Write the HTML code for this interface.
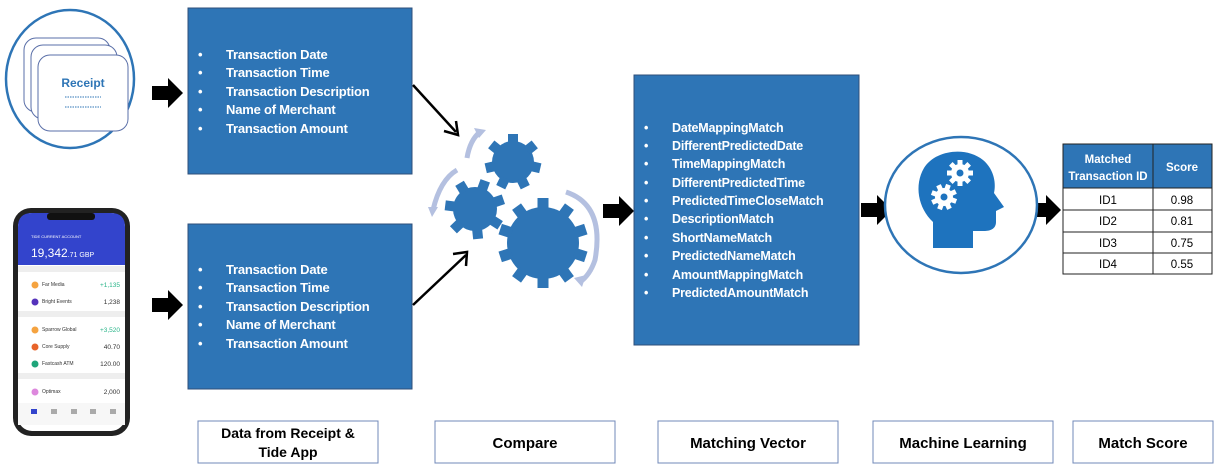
<!DOCTYPE html>
<html><head><meta charset="utf-8"><style>
html,body{margin:0;padding:0;background:#fff;width:1219px;height:469px;overflow:hidden}
svg{display:block}
.bt{font-family:"Liberation Sans",sans-serif;font-weight:bold;fill:#fff;font-size:13px;letter-spacing:-0.2px}
.lb{font-family:"Liberation Sans",sans-serif;font-weight:bold;fill:#000;font-size:15px;text-anchor:middle}
.tb{font-family:"Liberation Sans",sans-serif;font-size:11.5px;text-anchor:middle;fill:#000}
</style></head><body>
<svg width="1219" height="469" viewBox="0 0 1219 469" xmlns="http://www.w3.org/2000/svg">
<defs>
<polygon id="arr" points="0,8 16,8 16,0 31,15 16,30 16,22 0,22" fill="#000"/>
</defs>
<!-- receipt circle -->
<ellipse cx="70" cy="79" rx="64" ry="69" fill="#fff" stroke="#2e75b6" stroke-width="2.5"/>
<rect x="24" y="38" width="86" height="74" rx="12" fill="#fff" stroke="#5a6fa8" stroke-width="1"/>
<rect x="31" y="45" width="86" height="74" rx="12" fill="#fff" stroke="#5a6fa8" stroke-width="1"/>
<rect x="38" y="55" width="90" height="76" rx="12" fill="#fff" stroke="#5a6fa8" stroke-width="1"/>
<text x="83" y="87" font-family="Liberation Sans,sans-serif" font-weight="bold" font-size="12" fill="#2e75b6" text-anchor="middle">Receipt</text>
<line x1="65" y1="97" x2="101" y2="97" stroke="#2e75b6" stroke-dasharray="1.5,1"/>
<line x1="65" y1="107" x2="101" y2="107" stroke="#2e75b6" stroke-dasharray="1.5,1"/>
<!-- phone -->
<rect x="13" y="208" width="117" height="228" rx="18" fill="#222"/>
<rect x="18" y="213" width="107" height="218" rx="14" fill="#fff"/>
<path d="M18,227 Q18,213 32,213 L111,213 Q125,213 125,227 L125,265 L18,265 Z" fill="#3344cc"/>
<rect x="47" y="213" width="48" height="7" rx="3" fill="#111"/>
<text x="31" y="257" font-family="Liberation Sans,sans-serif" font-size="12" fill="#fff">19,342<tspan font-size="7">.71 GBP</tspan></text>
<text x="31" y="238" font-family="Liberation Sans,sans-serif" font-size="4" fill="#fff">TIDE CURRENT ACCOUNT</text>
<g font-family="Liberation Sans,sans-serif" font-size="5" fill="#333">
<rect x="18" y="266" width="107" height="6" fill="#eee"/>
<circle cx="35" cy="285" r="3.5" fill="#f5a340"/><text x="42" y="286">Far Media</text><text x="120" y="287" text-anchor="end" fill="#2bb58a" font-size="6.5">+1,135</text>
<circle cx="35" cy="302" r="3.5" fill="#5533bb"/><text x="42" y="303">Bright Events</text><text x="120" y="304" text-anchor="end" font-size="6.5">1,238</text>
<rect x="18" y="311" width="107" height="6" fill="#eee"/>
<circle cx="35" cy="330" r="3.5" fill="#f5a340"/><text x="42" y="331">Sparrow Global</text><text x="120" y="332" text-anchor="end" fill="#2bb58a" font-size="6.5">+3,520</text>
<circle cx="35" cy="347" r="3.5" fill="#e8642a"/><text x="42" y="348">Core Supply</text><text x="120" y="349" text-anchor="end" font-size="6.5">40.70</text>
<circle cx="35" cy="364" r="3.5" fill="#1fa57a"/><text x="42" y="365">Fastcash ATM</text><text x="120" y="366" text-anchor="end" font-size="6.5">120.00</text>
<rect x="18" y="373" width="107" height="6" fill="#eee"/>
<circle cx="35" cy="392" r="3.5" fill="#dd88dd"/><text x="42" y="393">Optimax</text><text x="120" y="394" text-anchor="end" font-size="6.5">2,000</text>
<rect x="18" y="403" width="107" height="22" fill="#f7f7f7"/>
<rect x="31" y="409" width="6" height="5" fill="#3344cc"/><rect x="51" y="409" width="6" height="5" fill="#aaa"/><rect x="71" y="409" width="6" height="5" fill="#aaa"/><rect x="90" y="409" width="6" height="5" fill="#aaa"/><rect x="110" y="409" width="6" height="5" fill="#aaa"/>
</g>
<!-- arrows -->
<use href="#arr" x="152" y="78"/>
<use href="#arr" x="152" y="290"/>
<use href="#arr" x="603" y="196"/>
<use href="#arr" x="861" y="195"/>
<use href="#arr" x="1030" y="195"/>
<!-- blue boxes -->
<rect x="188" y="8" width="224" height="166" fill="#2e75b6" stroke="#2f4f7a" stroke-width="1"/>
<rect x="188" y="224" width="224" height="165" fill="#2e75b6" stroke="#2f4f7a" stroke-width="1"/>
<rect x="634" y="75" width="225" height="270" fill="#2e75b6" stroke="#2f4f7a" stroke-width="1"/>
<g class="bt">
<text x="198" y="59">•</text><text x="226" y="59">Transaction Date</text>
<text x="198" y="77">•</text><text x="226" y="77">Transaction Time</text>
<text x="198" y="96">•</text><text x="226" y="96">Transaction Description</text>
<text x="198" y="114">•</text><text x="226" y="114">Name of Merchant</text>
<text x="198" y="133">•</text><text x="226" y="133">Transaction Amount</text>
<text x="198" y="274">•</text><text x="226" y="274">Transaction Date</text>
<text x="198" y="292">•</text><text x="226" y="292">Transaction Time</text>
<text x="198" y="311">•</text><text x="226" y="311">Transaction Description</text>
<text x="198" y="329">•</text><text x="226" y="329">Name of Merchant</text>
<text x="198" y="348">•</text><text x="226" y="348">Transaction Amount</text>
<g font-size="12.5">
<text x="644" y="132">•</text><text x="672" y="132">DateMappingMatch</text>
<text x="644" y="150">•</text><text x="672" y="150">DifferentPredictedDate</text>
<text x="644" y="168">•</text><text x="672" y="168">TimeMappingMatch</text>
<text x="644" y="187">•</text><text x="672" y="187">DifferentPredictedTime</text>
<text x="644" y="205">•</text><text x="672" y="205">PredictedTimeCloseMatch</text>
<text x="644" y="223">•</text><text x="672" y="223">DescriptionMatch</text>
<text x="644" y="242">•</text><text x="672" y="242">ShortNameMatch</text>
<text x="644" y="260">•</text><text x="672" y="260">PredictedNameMatch</text>
<text x="644" y="279">•</text><text x="672" y="279">AmountMappingMatch</text>
<text x="644" y="297">•</text><text x="672" y="297">PredictedAmountMatch</text>
</g></g>
<!-- diagonal arrows -->
<g stroke="#000" stroke-width="2.5" fill="none">
<line x1="413" y1="85" x2="456" y2="132"/>
<polyline points="444,131 458,135 456,121"/>
<line x1="413" y1="305" x2="466" y2="255"/>
<polyline points="453,254 467,252 466,266"/>
</g>
<!-- gear arcs -->
<g fill="none" stroke="#b4c0e0" stroke-width="5">
<path d="M467,158 Q470,140 480,132"/>
<path d="M457,170 Q440,180 433,210"/>
<path d="M566,192 Q605,205 595,260 Q590,275 580,282"/>
</g>
<g fill="#b4c0e0">
<polygon points="474,128 486,130 479,138"/>
<polygon points="428,207 438,207 432,217"/>
<polygon points="574,278 586,275 582,287"/>
</g>
<!-- gears -->
<g fill="#2e75b6">
<g transform="translate(513,162)"><circle r="21"/>
<rect x="-5" y="-28" width="10" height="10" transform="rotate(0)"/><rect x="-5" y="-28" width="10" height="10" transform="rotate(51)"/><rect x="-5" y="-28" width="10" height="10" transform="rotate(103)"/><rect x="-5" y="-28" width="10" height="10" transform="rotate(154)"/><rect x="-5" y="-28" width="10" height="10" transform="rotate(206)"/><rect x="-5" y="-28" width="10" height="10" transform="rotate(257)"/><rect x="-5" y="-28" width="10" height="10" transform="rotate(309)"/></g>
<g transform="translate(475,209)"><circle r="22"/>
<rect x="-5" y="-30" width="10" height="10" transform="rotate(20)"/><rect x="-5" y="-30" width="10" height="10" transform="rotate(71)"/><rect x="-5" y="-30" width="10" height="10" transform="rotate(123)"/><rect x="-5" y="-30" width="10" height="10" transform="rotate(174)"/><rect x="-5" y="-30" width="10" height="10" transform="rotate(226)"/><rect x="-5" y="-30" width="10" height="10" transform="rotate(277)"/><rect x="-5" y="-30" width="10" height="10" transform="rotate(329)"/></g>
<g transform="translate(543,243)"><circle r="36"/>
<rect x="-5.5" y="-45" width="11" height="12" transform="rotate(0)"/><rect x="-5.5" y="-45" width="11" height="12" transform="rotate(36)"/><rect x="-5.5" y="-45" width="11" height="12" transform="rotate(72)"/><rect x="-5.5" y="-45" width="11" height="12" transform="rotate(108)"/><rect x="-5.5" y="-45" width="11" height="12" transform="rotate(144)"/><rect x="-5.5" y="-45" width="11" height="12" transform="rotate(180)"/><rect x="-5.5" y="-45" width="11" height="12" transform="rotate(216)"/><rect x="-5.5" y="-45" width="11" height="12" transform="rotate(252)"/><rect x="-5.5" y="-45" width="11" height="12" transform="rotate(288)"/><rect x="-5.5" y="-45" width="11" height="12" transform="rotate(324)"/></g>
</g>
<!-- head -->
<ellipse cx="961" cy="205" rx="76" ry="68" fill="#fff" stroke="#2e75b6" stroke-width="2.5"/>
<path d="M933,248 L933,222 C918,208 914,185 924,168 C935,150 966,146 983,160 C995,170 996,185 994,193 L1004,207 L996,211 L996,222 C996,229 990,231 984,231 L973,231 L973,248 Z" fill="#1e73be"/>
<g fill="#fff">
<g transform="translate(960,173)"><circle r="9"/>
<rect x="-2.5" y="-13" width="5" height="6"/><rect x="-2.5" y="-13" width="5" height="6" transform="rotate(45)"/><rect x="-2.5" y="-13" width="5" height="6" transform="rotate(90)"/><rect x="-2.5" y="-13" width="5" height="6" transform="rotate(135)"/><rect x="-2.5" y="-13" width="5" height="6" transform="rotate(180)"/><rect x="-2.5" y="-13" width="5" height="6" transform="rotate(225)"/><rect x="-2.5" y="-13" width="5" height="6" transform="rotate(270)"/><rect x="-2.5" y="-13" width="5" height="6" transform="rotate(315)"/>
<circle r="3.5" fill="#1e73be"/></g>
<g transform="translate(944,197)"><circle r="9"/>
<rect x="-2.5" y="-13" width="5" height="6" transform="rotate(20)"/><rect x="-2.5" y="-13" width="5" height="6" transform="rotate(65)"/><rect x="-2.5" y="-13" width="5" height="6" transform="rotate(110)"/><rect x="-2.5" y="-13" width="5" height="6" transform="rotate(155)"/><rect x="-2.5" y="-13" width="5" height="6" transform="rotate(200)"/><rect x="-2.5" y="-13" width="5" height="6" transform="rotate(245)"/><rect x="-2.5" y="-13" width="5" height="6" transform="rotate(290)"/><rect x="-2.5" y="-13" width="5" height="6" transform="rotate(335)"/>
<circle r="3.5" fill="#1e73be"/></g>
</g>
<!-- table -->
<rect x="1063" y="144" width="149" height="44" fill="#2e75b6"/>
<g stroke="#222" stroke-width="1" fill="none">
<rect x="1063" y="144" width="149" height="130"/>
<line x1="1153" y1="144" x2="1153" y2="274"/>
<line x1="1063" y1="188" x2="1212" y2="188"/>
<line x1="1063" y1="210" x2="1212" y2="210"/>
<line x1="1063" y1="232" x2="1212" y2="232"/>
<line x1="1063" y1="253" x2="1212" y2="253"/>
</g>
<g class="tb">
<text x="1108" y="163" fill="#fff" font-weight="bold" font-size="11.5">Matched</text>
<text x="1108" y="180" fill="#fff" font-weight="bold" font-size="11.5">Transaction  ID</text>
<text x="1182" y="171" fill="#fff" font-weight="bold" font-size="11.5">Score</text>
<text x="1108" y="204">ID1</text><text x="1182" y="204">0.98</text>
<text x="1108" y="225">ID2</text><text x="1182" y="225">0.81</text>
<text x="1108" y="247">ID3</text><text x="1182" y="247">0.75</text>
<text x="1108" y="268">ID4</text><text x="1182" y="268">0.55</text>
</g>
<!-- bottom labels -->
<g fill="#fff" stroke="#7088b8" stroke-width="1">
<rect x="198" y="421" width="180" height="42"/>
<rect x="435" y="421" width="180" height="42"/>
<rect x="658" y="421" width="180" height="42"/>
<rect x="873" y="421" width="180" height="42"/>
<rect x="1073" y="421" width="140" height="42"/>
</g>
<g class="lb">
<text x="288" y="438" font-size="14">Data from Receipt &amp;</text>
<text x="288" y="457" font-size="14">Tide App</text>
<text x="525" y="448">Compare</text>
<text x="748" y="448">Matching Vector</text>
<text x="963" y="448">Machine Learning</text>
<text x="1143" y="448">Match Score</text>
</g>
</svg>
</body></html>
